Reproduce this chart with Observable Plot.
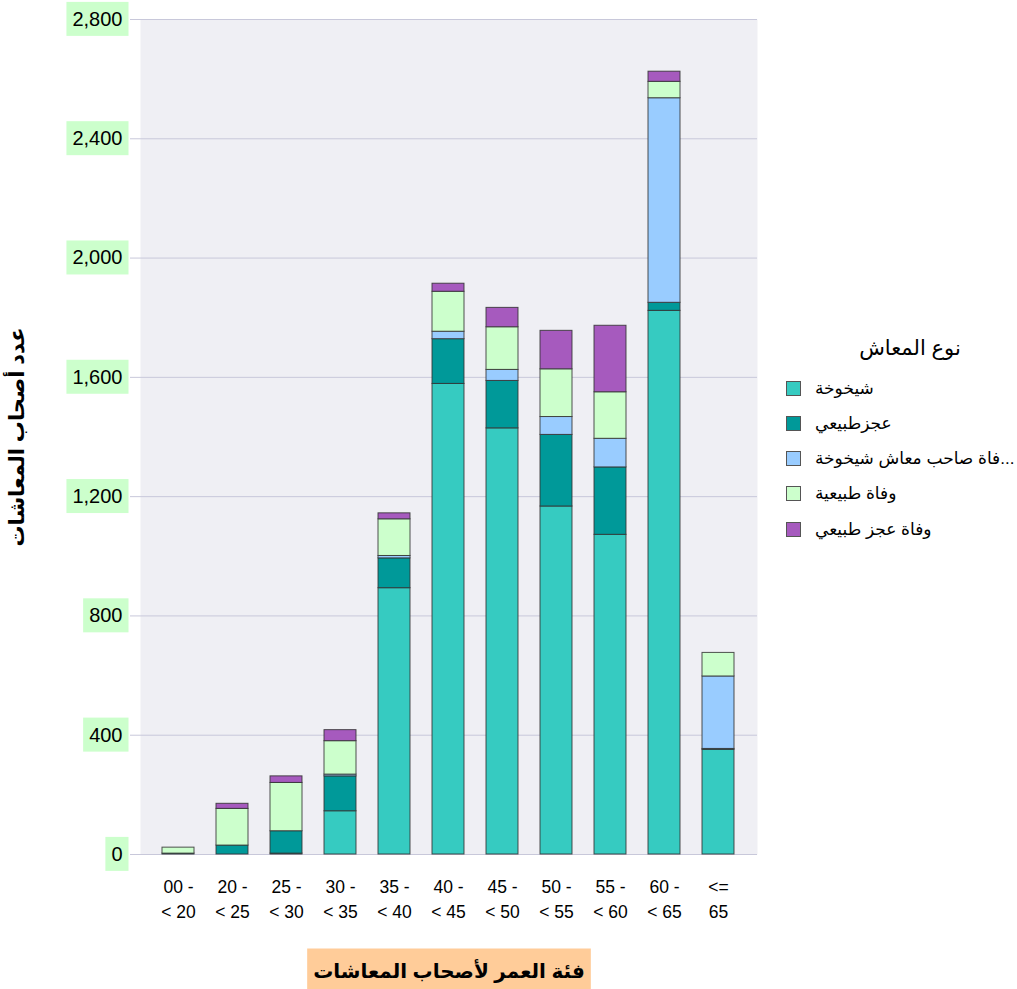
<!DOCTYPE html>
<html>
<head>
<meta charset="utf-8">
<script src="https://cdn.jsdelivr.net/npm/d3@7"></script>
<script src="https://cdn.jsdelivr.net/npm/@observablehq/plot@0.6"></script>
<style>
  body { margin: 0; background: #fff; font-family: "Liberation Sans", "DejaVu Sans", sans-serif; overflow: hidden; }
  #wrap { position: relative; width: 1017px; height: 989px; overflow: hidden; }
  #chart { position: absolute; left: 0; top: 0; }
  g[aria-label="y-axis label"] text { font-weight: bold; font-size: 21px; fill: #000; }
  g[aria-label="x-axis label"] text { font-weight: bold; font-size: 20px; fill: #000; }
  #legend { position: absolute; left: 784px; top: 334px; width: 232px; }
  #legend .title { position: absolute; left: 56px; width: 140px; top: 2px; text-align: center; font-size: 21px; direction: rtl; }
  #legend .item { position: absolute; left: 2px; height: 20px; display: flex; align-items: center; white-space: nowrap; }
  #legend .sw { width: 15px; height: 15px; border: 1px solid #555; box-sizing: border-box; margin-right: 14px; flex: none; }
  #legend .lab { font-size: 17px; direction: rtl; unicode-bidi: isolate; display: inline-block; }
</style>
</head>
<body>
<div id="wrap">
  <div id="chart"></div>
  <div id="legend"></div>
</div>
<script>
const categories = ["00 -\n< 20", "20 -\n< 25", "25 -\n< 30", "30 -\n< 35", "35 -\n< 40", "40 -\n< 45", "45 -\n< 50", "50 -\n< 55", "55 -\n< 60", "60 -\n< 65", "<=\n65"];
const seriesNames = ["شيخوخة", "عجزطبيعي", "وفاة صاحب معاش شيخوخة", "وفاة طبيعية", "وفاة عجز طبيعي"];
const legendLabels = ["شيخوخة", "عجزطبيعي", "...فاة صاحب معاش شيخوخة", "وفاة طبيعية", "وفاة عجز طبيعي"];
const seriesColors = ["#36CBC1", "#009999", "#99CCFF", "#CCFFCC", "#A65ABE"];

const shaikhukha   = [0, 0, 3, 145, 893, 1578, 1429, 1167, 1072, 1823, 351];
const ajzTabii     = [3, 30, 75, 117, 100, 150, 159, 240, 226, 27, 3];
const wafatSahib   = [0, 0, 0, 6, 8, 25, 37, 60, 96, 686, 243];
const wafatTabiia  = [20, 123, 162, 112, 123, 134, 143, 160, 156, 55, 79];
const wafatAjz     = [0, 17, 22, 37, 20, 27, 65, 129, 223, 34, 0];

const yTicks = [0, 400, 800, 1200, 1600, 2000, 2400, 2800];
const yTitle = "عدد أصحاب المعاشات";
const xTitle = "فئة العمر لأصحاب المعاشات";
const legendTitle = "نوع المعاش";

const seriesValues = [shaikhukha, ajzTabii, wafatSahib, wafatTabiia, wafatAjz];
const table = [];
seriesNames.forEach((s, si) => {
  categories.forEach((c, ci) => table.push({cat: c, series: s, value: seriesValues[si][ci]}));
});

const gridColor = "#C8C8DA";

const chart = Plot.plot({
  width: 770,
  height: 989,
  marginLeft: 140,
  marginRight: 13,
  marginTop: 19,
  marginBottom: 135,
  style: {fontFamily: "'Liberation Sans', 'DejaVu Sans', sans-serif", background: "transparent", color: "#000"},
  x: {domain: categories, padding: 0.4, label: null},
  y: {domain: [0, 2800], label: null},
  color: {domain: seriesNames, range: seriesColors},
  marks: [
    Plot.frame({fill: "#EFEFF4", stroke: null}),
    Plot.gridY(yTicks, {stroke: gridColor, strokeOpacity: 1}),
    Plot.barY(table, {x: "cat", y: "value", fill: "series", stroke: "#333", strokeWidth: 1, strokeOpacity: 0.85}),
    Plot.axisY(yTicks, {
      tickFormat: d3.format(","), fontSize: 20, tickSize: 10, tickPadding: 8,
      stroke: gridColor, label: yTitle, labelAnchor: "center", labelArrow: "none", labelOffset: 131
    }),
    Plot.axisX({
      tickSize: 0, tickPadding: 20, fontSize: 17.5, lineHeight: 1.45,
      label: xTitle, labelAnchor: "center", labelArrow: "none", labelOffset: 123
    })
  ]
});
document.getElementById("chart").appendChild(chart);

// background boxes behind y tick labels and x title
function addBox(textEl, fill, px, py) {
  const bb = textEl.getBBox();
  const r = document.createElementNS("http://www.w3.org/2000/svg", "rect");
  r.setAttribute("x", bb.x - px);
  r.setAttribute("y", bb.y - py);
  r.setAttribute("width", bb.width + 2 * px);
  r.setAttribute("height", bb.height + 2 * py);
  r.setAttribute("fill", fill);
  r.setAttribute("stroke", "none");
  const t = textEl.getAttribute("transform");
  if (t) r.setAttribute("transform", t);
  textEl.parentNode.insertBefore(r, textEl);
}
chart.querySelectorAll('g[aria-label="y-axis tick label"] text').forEach(t => addBox(t, "#CCFFCC", 6, 6));
chart.querySelectorAll('g[aria-label="x-axis label"] text').forEach(t => addBox(t, "#FFCC99", 6, 9));

// legend
const legend = document.getElementById("legend");
const title = document.createElement("div");
title.className = "title";
title.textContent = legendTitle;
legend.appendChild(title);
legendLabels.forEach((name, i) => {
  const item = document.createElement("div");
  item.className = "item";
  item.style.top = (44 + i * 35.3) + "px";
  const sw = document.createElement("div");
  sw.className = "sw";
  sw.style.background = seriesColors[i];
  const lab = document.createElement("span");
  lab.className = "lab";
  lab.textContent = name;
  item.appendChild(sw);
  item.appendChild(lab);
  legend.appendChild(item);
});
</script>
</body>
</html>
